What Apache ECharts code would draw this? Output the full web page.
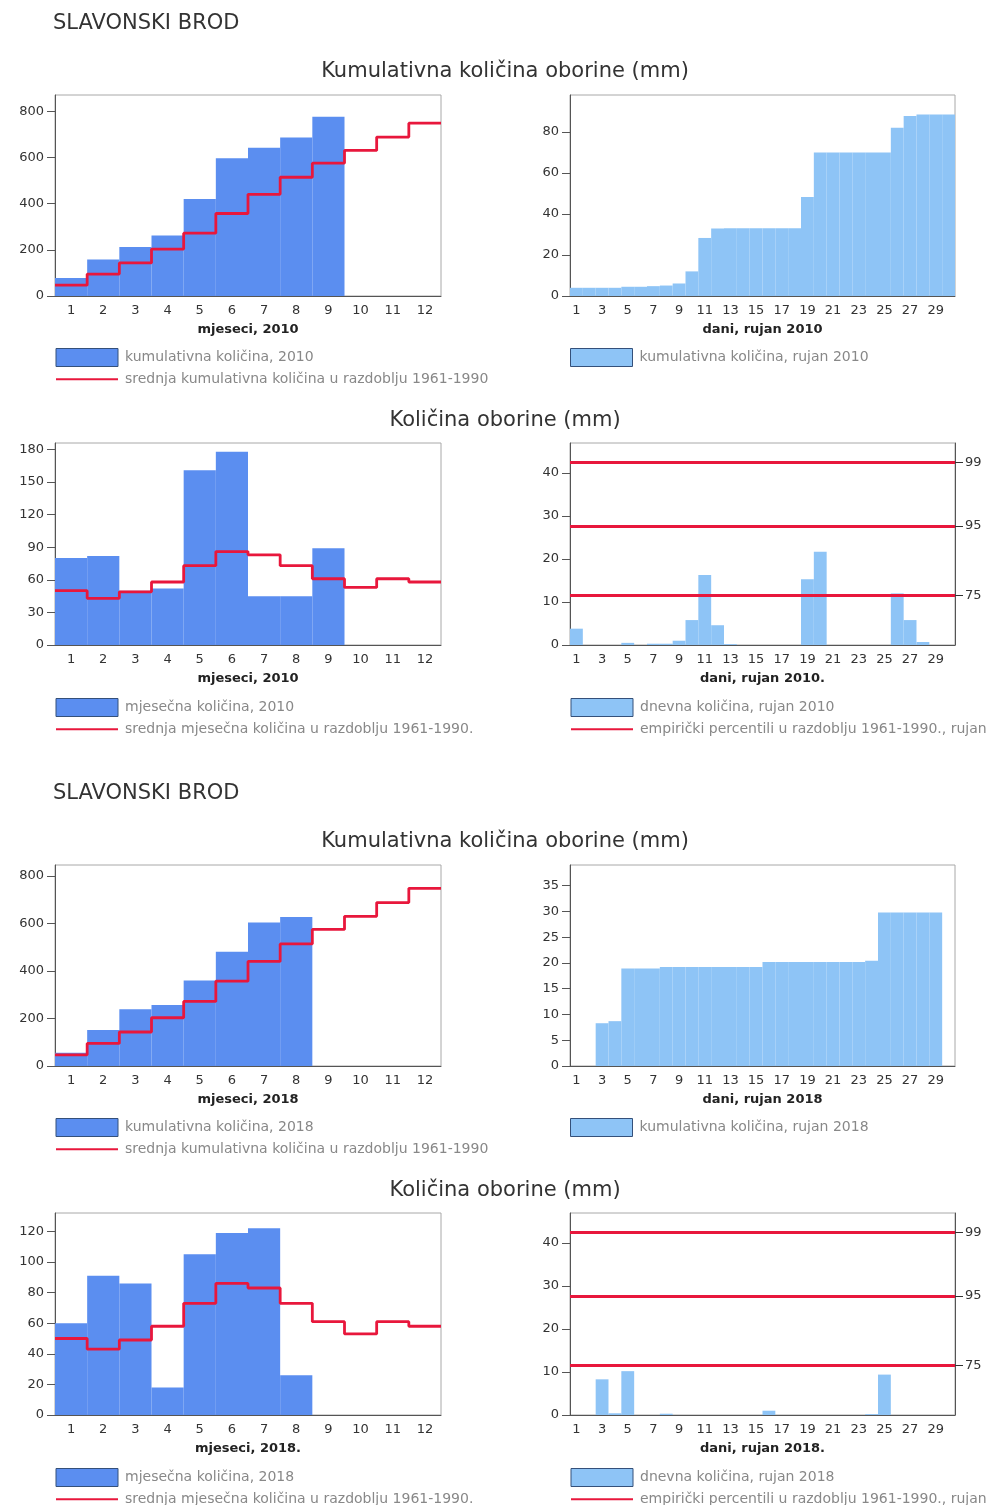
<!DOCTYPE html>
<html><head><meta charset="utf-8">
<script src="https://cdn.jsdelivr.net/npm/echarts@6/dist/echarts.min.js"></script>
<style>html,body{margin:0;padding:0;background:#fff}#c{width:991px;height:1505px}</style>
</head><body><div id="c"></div>
<script>
// ---------- data ----------
const months = ['1','2','3','4','5','6','7','8','9','10','11','12'];
const days = ['1','2','3','4','5','6','7','8','9','10','11','12','13','14','15','16','17','18','19','20','21','22','23','24','25','26','27','28','29','30'];

const cumMonth2010 = [78, 158, 212, 262, 420, 596, 642, 686, 776, null, null, null];
const cumMean = [47, 95, 143, 203, 272, 357, 440, 514, 575, 630, 688, 748];
const cumDay2010 = [4, 4, 4, 4, 4.5, 4.5, 4.8, 5.1, 6.1, 12, 28.3, 32.9, 33, 33, 33, 33, 33, 33, 48.3, 70, 70, 70, 70, 70, 70, 82, 87.8, 88.5, 88.5, 88.5];

const month2010 = [80, 82, 50, 52, 161, 178, 45, 45, 89, null, null, null];
const monthMean = [50, 43, 49, 58, 73, 86, 83, 73, 61, 53, 61, 58];
const day2010 = [3.8, 0, 0, 0, 0.5, 0, 0.3, 0.3, 1.0, 5.8, 16.3, 4.6, 0.2, 0, 0, 0, 0, 0, 15.3, 21.7, 0, 0, 0, 0, 0, 12.0, 5.8, 0.7, 0, 0];

const cumMonth2018 = [56, 152, 239, 257, 360, 481, 604, 627, null, null, null, null];
const cumDay2018 = [0, 0, 8.3, 8.7, 18.9, 18.9, 18.9, 19.2, 19.2, 19.2, 19.2, 19.2, 19.2, 19.2, 19.2, 20.2, 20.2, 20.2, 20.2, 20.2, 20.2, 20.2, 20.2, 20.4, 29.8, 29.8, 29.8, 29.8, 29.8, null];

const month2018 = [60, 91, 86, 18, 105, 119, 122, 26, null, null, null, null];
const day2018 = [0, 0, 8.3, 0.4, 10.2, 0, 0, 0.3, 0, 0, 0, 0, 0, 0, 0, 1.0, 0, 0, 0, 0, 0, 0, 0, 0.2, 9.4, 0, 0, 0, 0, null];

const percNames = ['75', '95', '99'];
const percValues = [11.6, 27.7, 42.5];

const ticksCum = [0, 200, 400, 600, 800];
const ticksCumDay2010 = [0, 20, 40, 60, 80];
const ticksMonth2010 = [0, 30, 60, 90, 120, 150, 180];
const ticksDay = [0, 10, 20, 30, 40];
const ticksCumDay2018 = [0, 5, 10, 15, 20, 25, 30, 35];
const ticksMonth2018 = [0, 20, 40, 60, 80, 100, 120];

// ---------- styles ----------
const FONT = 'DejaVu Sans';
const C_MONTH = '#5b8ef0', C_DAY = '#8ec4f6', C_RED = '#e8173c';
const grids = [], xAxes = [], yAxes = [], series = [], legends = [], titles = [];

function panel(o) {
  const gi = grids.length;
  grids.push({left: o.left, top: o.top, width: o.width, height: o.height, show: true,
    borderColor: '#a8a8a8', borderWidth: 1, backgroundColor: 'transparent'});
  const xi = xAxes.length;
  xAxes.push({type: 'category', gridIndex: gi, data: o.cats, boundaryGap: true,
    name: o.xName, nameLocation: 'middle', nameGap: 27,
    nameTextStyle: {fontFamily: FONT, fontSize: 13, fontWeight: 'bold', color: '#222'},
    axisLine: {lineStyle: {color: '#555'}},
    axisTick: {interval: 0, length: 5, lineStyle: {color: '#555'}},
    axisLabel: {interval: o.labelEvery - 1, fontFamily: FONT, fontSize: 13, color: '#333', margin: 8}});
  let xv = null;
  if (o.step) {
    xv = xAxes.length;
    xAxes.push({type: 'value', gridIndex: gi, min: 0, max: o.cats.length, show: false});
  }
  const yi = yAxes.length;
  yAxes.push({type: 'value', gridIndex: gi, min: 0, max: o.yMax, splitLine: {show: false},
    axisLine: {show: true, lineStyle: {color: '#555'}},
    axisTick: {show: true, length: 8, customValues: o.yTicks, lineStyle: {color: '#555'}},
    axisLabel: {customValues: o.yTicks, fontFamily: FONT, fontSize: 13, color: '#333', margin: 11}});
  series.push({type: 'bar', name: o.barName, xAxisIndex: xi, yAxisIndex: yi, data: o.bars,
    barCategoryGap: '0%', itemStyle: {color: o.barColor}, silent: true});
  const legendData = [{name: o.barName, icon: 'rect', itemStyle: {borderColor: '#34507a', borderWidth: 1}}];
  if (o.step) {
    const pts = o.step.map((v, i) => [i, v]);
    pts.push([o.step.length, o.step[o.step.length - 1]]);
    series.push({type: 'line', name: o.lineName, xAxisIndex: xv, yAxisIndex: yi, data: pts, step: 'end',
      symbol: 'none', lineStyle: {color: C_RED, width: 2.8}, itemStyle: {color: C_RED}, silent: true});
    legendData.push({name: o.lineName, itemStyle: {opacity: 0}});
  }
  if (o.perc) {
    yAxes.push({type: 'value', gridIndex: gi, position: 'right', min: 0, max: o.yMax, splitLine: {show: false},
      axisLine: {show: true, lineStyle: {color: '#555'}},
      axisTick: {show: true, length: 8, customValues: percValues, lineStyle: {color: '#333'}},
      axisLabel: {customValues: percValues, fontFamily: FONT, fontSize: 13, color: '#333', margin: 10,
        formatter: v => {let b = 0; percValues.forEach((p, i) => { if (Math.abs(p - v) < Math.abs(percValues[b] - v)) b = i; }); return percNames[b];}}});
    series.push({type: 'line', name: o.lineName, xAxisIndex: xi, yAxisIndex: yi, data: [],
      symbol: 'none', lineStyle: {color: C_RED, width: 2.8}, itemStyle: {color: C_RED}, silent: true,
      markLine: {silent: true, symbol: 'none', label: {show: false},
        lineStyle: {color: C_RED, width: 2.8, type: 'solid'},
        data: percValues.map(v => ({yAxis: v}))}});
    legendData.push({name: o.lineName, itemStyle: {opacity: 0}});
  }
  legends.push({left: o.left, top: o.legendTop, orient: 'vertical', itemWidth: 62, itemHeight: 18, itemGap: 5,
    selectedMode: false, data: legendData, padding: 0,
    textStyle: {fontFamily: FONT, fontSize: 14, color: '#888', padding: [0, 0, 0, 2]}});
}

function block(y0, yr, cumM, cumD, mon, day, o) {
  titles.push({text: 'SLAVONSKI BROD', left: 53, top: y0 + 13, padding: 0,
    textStyle: {fontFamily: FONT, fontSize: 21, fontWeight: 'normal', color: '#333'}});
  titles.push({text: 'Kumulativna količina oborine (mm)', left: 505, top: y0 + 61, padding: 0, textAlign: 'center',
    textStyle: {fontFamily: FONT, fontSize: 21, fontWeight: 'normal', color: '#333'}});
  titles.push({text: 'Količina oborine (mm)', left: 505, top: y0 + 410, padding: 0, textAlign: 'center',
    textStyle: {fontFamily: FONT, fontSize: 21, fontWeight: 'normal', color: '#333'}});
  panel({left: 55, top: y0 + 95, width: 386, height: 201, cats: months, labelEvery: 1,
    xName: 'mjeseci, ' + yr, yMax: o.cumMax, yTicks: ticksCum, bars: cumM, barColor: C_MONTH,
    barName: 'kumulativna količina, ' + yr, step: cumMean,
    lineName: 'srednja kumulativna količina u razdoblju 1961-1990', legendTop: y0 + 348});
  panel({left: 570, top: y0 + 95, width: 385, height: 201, cats: days, labelEvery: 2,
    xName: 'dani, rujan ' + yr, yMax: o.cumDayMax, yTicks: o.cumDayTicks, bars: cumD, barColor: C_DAY,
    barName: 'kumulativna količina, rujan ' + yr, legendTop: y0 + 348});
  panel({left: 55, top: y0 + 443, width: 386, height: 202, cats: months, labelEvery: 1,
    xName: 'mjeseci, ' + yr + o.dot, yMax: o.monMax, yTicks: o.monTicks, bars: mon, barColor: C_MONTH,
    barName: 'mjesečna količina, ' + yr, step: monthMean,
    lineName: 'srednja mjesečna količina u razdoblju 1961-1990.', legendTop: y0 + 698});
  panel({left: 570, top: y0 + 443, width: 385, height: 202, cats: days, labelEvery: 2,
    xName: 'dani, rujan ' + yr + '.', yMax: 47, yTicks: ticksDay, bars: day, barColor: C_DAY,
    barName: 'dnevna količina, rujan ' + yr, perc: true,
    lineName: 'empirički percentili u razdoblju 1961-1990., rujan', legendTop: y0 + 698});
}

block(0, '2010', cumMonth2010, cumDay2010, month2010, day2010,
  {cumMax: 870, cumDayMax: 98, cumDayTicks: ticksCumDay2010, monMax: 186, monTicks: ticksMonth2010, dot: ''});
block(770, '2018', cumMonth2018, cumDay2018, month2018, day2018,
  {cumMax: 846, cumDayMax: 39, cumDayTicks: ticksCumDay2018, monMax: 132, monTicks: ticksMonth2018, dot: '.'});

const chart = echarts.init(document.getElementById('c'), null, {renderer: 'canvas'});
chart.setOption({animation: false, backgroundColor: '#fff', title: titles, grid: grids,
  xAxis: xAxes, yAxis: yAxes, series: series, legend: legends});
</script>
</body></html>
